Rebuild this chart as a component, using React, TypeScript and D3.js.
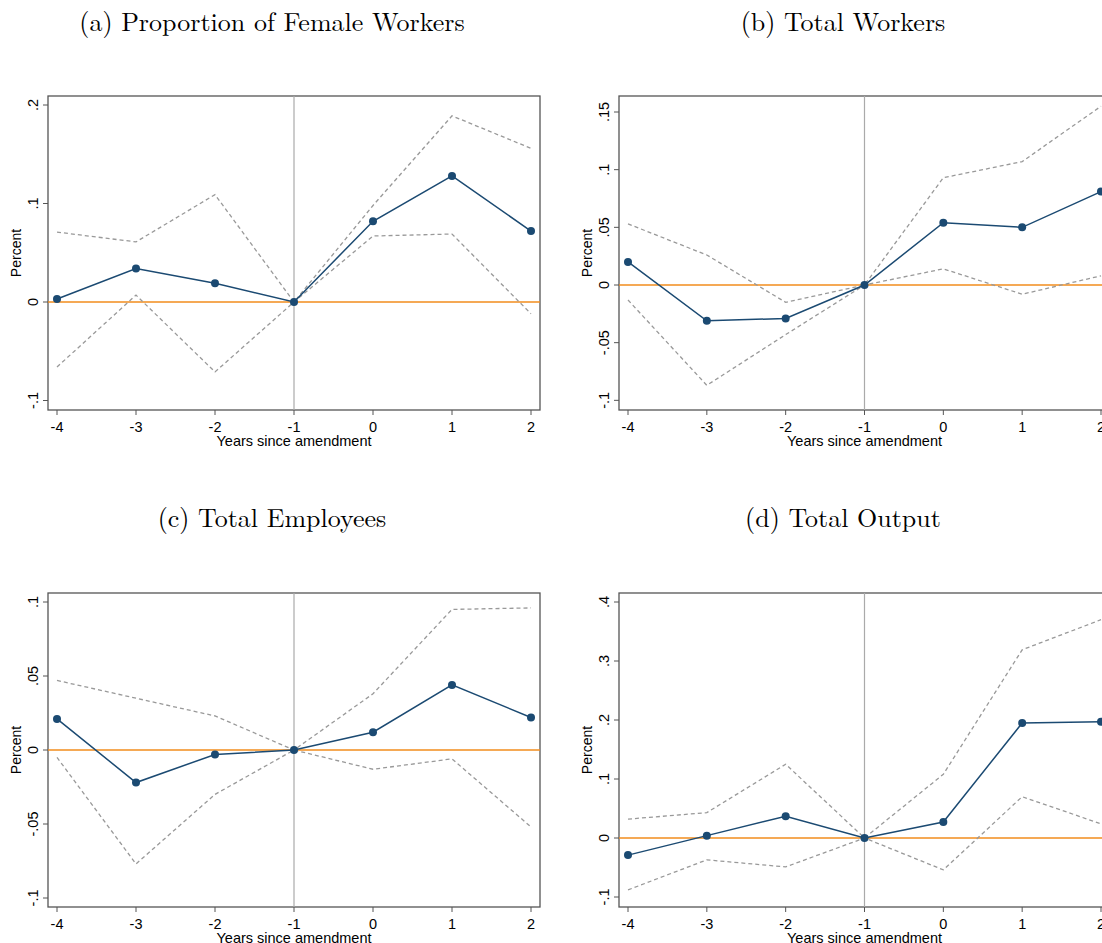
import React from "react";
import * as d3 from "d3";

const years = [-4, -3, -2, -1, 0, 1, 2];

const aMean = [0.003, 0.034, 0.019, 0, 0.082, 0.128, 0.072];
const aUp = [0.071, 0.061, 0.109, 0, 0.098, 0.189, 0.156];
const aLo = [-0.066, 0.007, -0.071, 0, 0.067, 0.069, -0.012];
const aTicks = [-0.1, 0, 0.1, 0.2];
const aLabels = ["-.1", "0", ".1", ".2"];

const bMean = [0.02, -0.031, -0.029, 0, 0.054, 0.05, 0.081];
const bUp = [0.053, 0.026, -0.015, 0, 0.093, 0.107, 0.155];
const bLo = [-0.013, -0.087, -0.043, 0, 0.014, -0.008, 0.008];
const bTicks = [-0.1, -0.05, 0, 0.05, 0.1, 0.15];
const bLabels = ["-.1", "-.05", "0", ".05", ".1", ".15"];

const cMean = [0.021, -0.022, -0.003, 0, 0.012, 0.044, 0.022];
const cUp = [0.047, 0.035, 0.023, 0, 0.038, 0.095, 0.096];
const cLo = [-0.005, -0.077, -0.03, 0, -0.013, -0.006, -0.052];
const cTicks = [-0.1, -0.05, 0, 0.05, 0.1];
const cLabels = ["-.1", "-.05", "0", ".05", ".1"];

const dMean = [-0.029, 0.004, 0.037, 0, 0.027, 0.195, 0.197];
const dUp = [0.032, 0.043, 0.125, 0, 0.108, 0.319, 0.37];
const dLo = [-0.088, -0.037, -0.049, 0, -0.054, 0.07, 0.024];
const dTicks = [-0.1, 0, 0.1, 0.2, 0.3, 0.4];
const dLabels = ["-.1", "0", ".1", ".2", ".3", ".4"];

type P = {
  title: string; tx: number; ty: number;
  left: number; right: number; top: number; bottom: number;
  x0: number; x1: number; yDom: [number, number]; y0: number; y1: number;
  mean: number[]; up: number[]; lo: number[]; ticks: number[]; labels: string[];
};

function Panel(p: P) {
  const x = d3.scaleLinear().domain([-4, 2]).range([p.x0, p.x1]);
  const y = d3.scaleLinear().domain(p.yDom).range([p.y0, p.y1]);
  const line = (v: number[]) =>
    d3.line<number>().x((_, i) => x(years[i])).y((d) => y(d))(v) || "";
  const f = "Arial, 'Liberation Sans', sans-serif";
  return (
    <g>
      <text x={p.tx} y={p.ty} textAnchor="middle" fontFamily="'Latin Modern Roman', 'DejaVu Serif', serif" fontSize={26}>{p.title}</text>
      <rect x={p.left} y={p.top} width={p.right - p.left} height={p.bottom - p.top} fill="none" stroke="#555" strokeWidth={1.3} />
      <line x1={x(-1)} x2={x(-1)} y1={p.top} y2={p.bottom} stroke="#aaa" strokeWidth={1.2} />
      <line x1={p.left} x2={p.right} y1={y(0)} y2={y(0)} stroke="#f28c1c" strokeWidth={1.5} />
      <path d={line(p.up)} fill="none" stroke="#999" strokeWidth={1.3} strokeDasharray="4,3" />
      <path d={line(p.lo)} fill="none" stroke="#999" strokeWidth={1.3} strokeDasharray="4,3" />
      <path d={line(p.mean)} fill="none" stroke="#1b4a72" strokeWidth={1.5} />
      {p.mean.map((v, i) => (
        <circle key={i} cx={x(years[i])} cy={y(v)} r={4} fill="#1b4a72" />
      ))}
      {years.map((t) => (
        <g key={t}>
          <line x1={x(t)} x2={x(t)} y1={p.bottom} y2={p.bottom + 5} stroke="#555" />
          <text x={x(t)} y={p.bottom + 22} textAnchor="middle" fontFamily={f} fontSize={14.5}>{t}</text>
        </g>
      ))}
      {p.ticks.map((t, i) => (
        <g key={t}>
          <line x1={p.left - 5} x2={p.left} y1={y(t)} y2={y(t)} stroke="#555" />
          <text transform={`translate(${p.left - 10},${y(t)}) rotate(-90)`} textAnchor="middle" fontFamily={f} fontSize={14.5}>{p.labels[i]}</text>
        </g>
      ))}
      <text transform={`translate(${p.left - 27},${(p.top + p.bottom) / 2}) rotate(-90)`} textAnchor="middle" fontFamily={f} fontSize={14}>Percent</text>
      <text x={(p.x0 + p.x1) / 2} y={p.bottom + 36} textAnchor="middle" fontFamily={f} fontSize={14.5}>Years since amendment</text>
    </g>
  );
}

export default function App() {
  return (
    <svg width={1102} height={943} style={{ position: "absolute", left: 0, top: 0, background: "#fff" }}>
      <Panel title="(a) Proportion of Female Workers" tx={272} ty={31} left={48} right={540} top={96} bottom={410}
        x0={57} x1={531} yDom={[0, 0.2]} y0={302} y1={105} mean={aMean} up={aUp} lo={aLo} ticks={aTicks} labels={aLabels} />
      <Panel title="(b) Total Workers" tx={843} ty={31} left={619} right={1110} top={96} bottom={410}
        x0={628} x1={1101} yDom={[0, 0.15]} y0={285} y1={112} mean={bMean} up={bUp} lo={bLo} ticks={bTicks} labels={bLabels} />
      <Panel title="(c) Total Employees" tx={272} ty={527} left={48} right={540} top={593} bottom={907}
        x0={57} x1={531} yDom={[0, 0.1]} y0={750} y1={602} mean={cMean} up={cUp} lo={cLo} ticks={cTicks} labels={cLabels} />
      <Panel title="(d) Total Output" tx={843} ty={527} left={619} right={1110} top={593} bottom={907}
        x0={628} x1={1101} yDom={[0, 0.4]} y0={838} y1={602} mean={dMean} up={dUp} lo={dLo} ticks={dTicks} labels={dLabels} />
    </svg>
  );
}
